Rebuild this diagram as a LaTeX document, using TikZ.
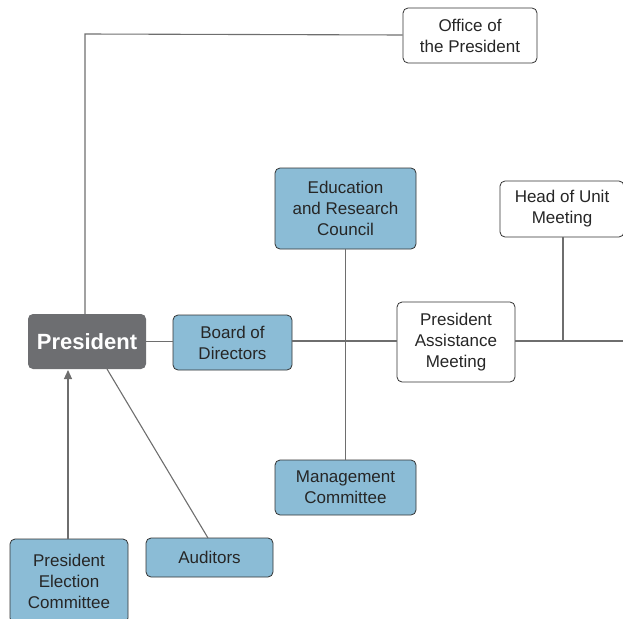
\documentclass[tikz,border=0pt]{standalone}
\usepackage{fontspec}
\setmainfont{Liberation Sans}
\usetikzlibrary{arrows.meta}
\definecolor{boxblue}{RGB}{139,188,214}
\definecolor{pgray}{RGB}{109,110,113}
\definecolor{lgray}{RGB}{110,110,110}
\begin{document}
\begin{tikzpicture}[x=1pt,y=-1pt,
  base/.style={rectangle,rounded corners=5pt,draw=black!80,line width=0.8pt,align=center,inner sep=0pt,
    font=\fontsize{17}{21}\selectfont,text=black!85},
  bluebox/.style={base,fill=boxblue},
  whitebox/.style={base,fill=white},
  conn/.style={draw=lgray,line width=1.1pt}]
\useasboundingbox (0,0) rectangle (623,618);
\begin{scope}
\clip (0,0) rectangle (623,618);
\node[whitebox,minimum width=134pt,minimum height=55pt] (office) at (470,35.5) {Office of\\the President};
\node[bluebox,minimum width=141pt,minimum height=81pt] (edu) at (345.5,208.5) {Education\\and Research\\Council};
\node[whitebox,minimum width=124pt,minimum height=56pt] (head) at (562,209) {Head of Unit\\Meeting};
\node[rectangle,rounded corners=5pt,fill=pgray,minimum width=118pt,minimum height=55pt,text=white,
  font=\fontsize{22}{26}\selectfont\bfseries] (pres) at (87,341.5) {President};
\node[bluebox,minimum width=119pt,minimum height=55pt] (board) at (232.5,342.5) {Board of\\Directors};
\node[whitebox,minimum width=118pt,minimum height=80pt] (pam) at (456,342) {President\\Assistance\\Meeting};
\node[bluebox,minimum width=141pt,minimum height=55pt] (mgmt) at (345.5,487.5) {Management\\Committee};
\node[bluebox,minimum width=118pt,minimum height=84pt] (elect) at (69,581) {President\\Election\\Committee};
\node[bluebox,minimum width=127pt,minimum height=39pt] (aud) at (209.5,557.5) {Auditors};
\coordinate (c1) at (85,34);
\coordinate (rend) at (623,341);
\coordinate (hj) at (563,341);
\end{scope}
\draw[conn] (office.west |- 0,35) -- (c1) -- (85,314);
\draw[conn] (pres.east) -- (board.west |- pres.east);
\draw[conn] (board.east |- rend) -- (pam.west |- rend);
\draw[conn] (edu.south) -- (mgmt.north);
\draw[conn] (pam.east |- rend) -- (rend);
\draw[conn] (head.south -| hj) -- (hj);
\draw[conn,-{Triangle[length=9pt,width=8pt]}] (elect.north -| 68,0) -- (68,370);
\draw[conn] (107,369) -- (208,538);
\end{tikzpicture}
\end{document}
